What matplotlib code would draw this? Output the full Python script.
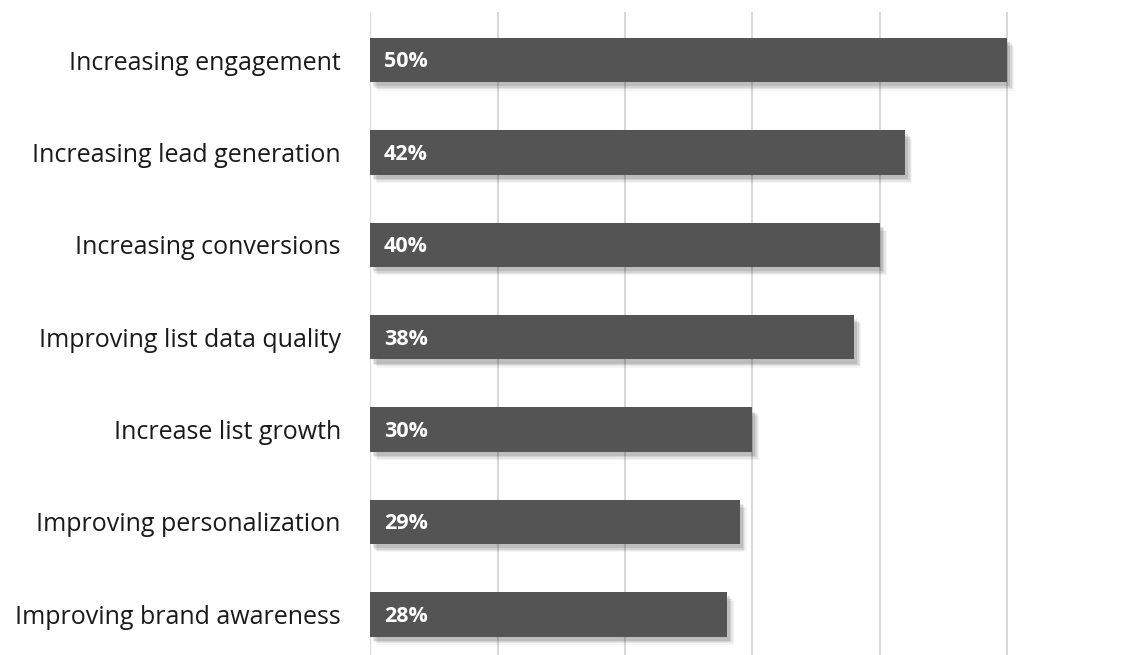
import matplotlib.pyplot as plt
import matplotlib.patheffects as pe

# Survey results: top email marketing goals
goals = [
    "Increasing engagement",
    "Increasing lead generation",
    "Increasing conversions",
    "Improving list data quality",
    "Increase list growth",
    "Improving personalization",
    "Improving brand awareness",
]
shares = [50, 42, 40, 38, 30, 29, 28]

BAR_COLOR = "#545454"
GRID_COLOR = "#d9d9d9"

plt.rcParams["font.family"] = ["Open Sans", "DejaVu Sans"]

fig = plt.figure(figsize=(11.22, 6.55), dpi=100)
# axes run slightly past the right edge so the last gridline sits off-canvas
ax = fig.add_axes([370 / 1122, 0.0, (1135 - 370) / 1122, 1 - 12 / 655])

ypos = list(range(len(goals)))

# soft drop shadow built from a few stacked offset copies
shadow = [
    pe.SimplePatchShadow(offset=(o, -o - 1), shadow_rgbFace="black", alpha=a)
    for o, a in [(5, 0.04), (4, 0.06), (3, 0.08), (2, 0.1)]
]
bars = ax.barh(ypos, shares, height=0.48, color=BAR_COLOR, zorder=3,
               path_effects=shadow + [pe.Normal()])

for y, v in zip(ypos, shares):
    ax.text(1.1, y + 0.02, f"{v}%", color="white", fontweight="bold",
            fontsize=15.5, va="center", ha="left", zorder=4)

ax.set_xlim(0, 60)
ax.set_ylim(6.44, -0.52)
ax.set_xticks(range(0, 61, 10))
ax.xaxis.grid(True, color=GRID_COLOR, linewidth=1.5, zorder=0)
ax.tick_params(axis="x", length=0, labelbottom=False)

ax.set_yticks(ypos)
ax.set_yticklabels(goals, fontsize=18, color="#1a1a1a")
ax.tick_params(axis="y", length=0, pad=21)

for side in ax.spines.values():
    side.set_visible(False)

fig.savefig("out.png", dpi=100)
